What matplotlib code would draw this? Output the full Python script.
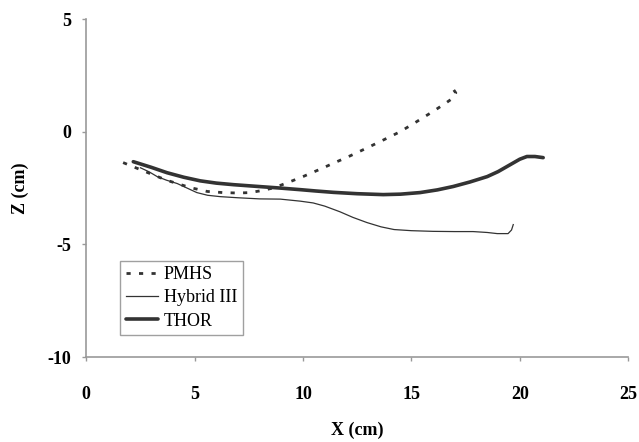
import matplotlib.pyplot as plt

# PMHS (dotted), Hybrid III (thin), THOR (thick) trajectories
pmhs_x = [1.7, 2.26, 2.8, 3.7, 4.8, 5.58, 6.3, 7.0, 7.56, 8.16, 8.6, 9.04, 9.5, 10.0, 10.7, 11.4, 12.2, 12.95, 13.7, 14.48, 15.2, 16.0, 16.6, 16.93, 17.05, 16.95]
pmhs_z = [-1.37, -1.59, -1.8, -2.15, -2.48, -2.65, -2.7, -2.72, -2.7, -2.6, -2.5, -2.35, -2.18, -1.99, -1.7, -1.4, -1.06, -0.72, -0.37, 0.0, 0.42, 0.9, 1.28, 1.5, 1.72, 1.86]

hyb_x = [2.5, 2.9, 3.27, 3.7, 4.2, 4.65, 5.1, 5.6, 6.18, 7.0, 8.0, 8.95, 9.87, 10.47, 11.0, 11.7, 12.3, 12.95, 13.6, 14.2, 15.0, 16.0, 17.0, 17.85, 18.5, 18.96, 19.46, 19.62, 19.7]
hyb_z = [-1.6, -1.78, -1.99, -2.15, -2.3, -2.5, -2.7, -2.82, -2.88, -2.93, -2.98, -2.99, -3.08, -3.16, -3.3, -3.55, -3.8, -4.03, -4.22, -4.34, -4.39, -4.42, -4.43, -4.43, -4.47, -4.52, -4.52, -4.36, -4.12]

thor_x = [2.17, 3.0, 3.73, 4.5, 5.26, 6.0, 6.8, 7.8, 8.95, 9.87, 10.6, 11.4, 12.5, 13.7, 14.5, 15.4, 16.2, 16.93, 17.7, 18.5, 19.0, 19.4, 20.0, 20.33, 20.7, 21.08]
thor_z = [-1.33, -1.58, -1.82, -2.02, -2.18, -2.28, -2.35, -2.42, -2.5, -2.57, -2.63, -2.69, -2.75, -2.79, -2.77, -2.7, -2.58, -2.43, -2.23, -1.99, -1.77, -1.55, -1.22, -1.1, -1.1, -1.15]

plt.rcParams['font.family'] = ['Liberation Serif', 'DejaVu Serif']
plt.rcParams['axes.unicode_minus'] = False

fig = plt.figure(figsize=(6.39, 4.42), dpi=100)
ax = fig.add_axes([0.135, 0.192, 0.848, 0.765])

lc = '#333333'
ax.plot(pmhs_x, pmhs_z, color=lc, lw=2.0, linestyle=(0, (1.5, 3)), label='PMHS')
ax.plot(hyb_x, hyb_z, color=lc, lw=0.9, label='Hybrid III')
ax.plot(thor_x, thor_z, color=lc, lw=2.6, label='THOR', solid_capstyle='round')

ax.set_xlim(0, 25)
ax.set_ylim(-10, 5)
ax.set_xticks([0, 5, 10, 15, 20, 25])
ax.set_yticks([-10, -5, 0, 5])

for s in ['top', 'right']:
    ax.spines[s].set_visible(False)
for s in ['left', 'bottom']:
    ax.spines[s].set_color('#999999')
    ax.spines[s].set_linewidth(1.2)
ax.tick_params(colors='#999999', length=3, width=1, labelcolor='black', labelsize=13)
ax.tick_params(axis='x', pad=18)
ax.tick_params(axis='y', pad=8)
for t in ax.get_xticklabels() + ax.get_yticklabels():
    t.set_fontweight('bold')

ax.set_xlabel('X (cm)', fontsize=13, fontweight='bold', labelpad=13)
ax.set_ylabel('Z (cm)', fontsize=13, fontweight='bold', labelpad=13)

leg = ax.legend(loc='lower left', bbox_to_anchor=(0.063, 0.065), borderaxespad=0,
                fancybox=False, edgecolor='#888888', fontsize=13, handlelength=1.8,
                labelspacing=0.35, handletextpad=0.3, borderpad=0.3)
leg.get_frame().set_linewidth(1.0)

plt.savefig('out.png', dpi=100)
